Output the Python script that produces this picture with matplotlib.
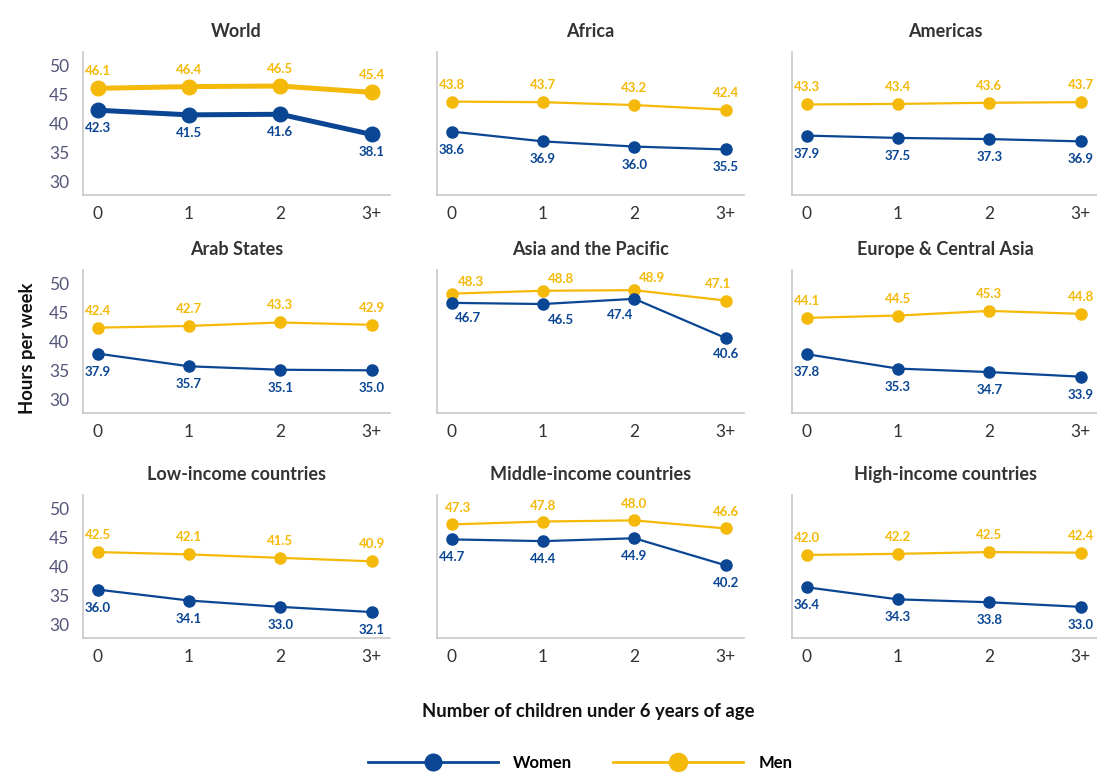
import matplotlib.pyplot as plt
from matplotlib.lines import Line2D

plt.rcParams['font.family'] = ['Lato', 'DejaVu Sans']

# data
regions = ['World', 'Africa', 'Americas',
           'Arab States', 'Asia and the Pacific', 'Europe & Central Asia',
           'Low-income countries', 'Middle-income countries', 'High-income countries']
children = ['0', '1', '2', '3+']
women = [
    [42.3, 41.5, 41.6, 38.1],
    [38.6, 36.9, 36.0, 35.5],
    [37.9, 37.5, 37.3, 36.9],
    [37.9, 35.7, 35.1, 35.0],
    [46.7, 46.5, 47.4, 40.6],
    [37.8, 35.3, 34.7, 33.9],
    [36.0, 34.1, 33.0, 32.1],
    [44.7, 44.4, 44.9, 40.2],
    [36.4, 34.3, 33.8, 33.0],
]
men = [
    [46.1, 46.4, 46.5, 45.4],
    [43.8, 43.7, 43.2, 42.4],
    [43.3, 43.4, 43.6, 43.7],
    [42.4, 42.7, 43.3, 42.9],
    [48.3, 48.8, 48.9, 47.1],
    [44.1, 44.5, 45.3, 44.8],
    [42.5, 42.1, 41.5, 40.9],
    [47.3, 47.8, 48.0, 46.6],
    [42.0, 42.2, 42.5, 42.4],
]
yticks = [30, 35, 40, 45, 50]

BLUE = '#0a4693'
GOLD = '#f5b90a'
W, H = 1097, 772

# axes boxes in pixels: left, top
col_left = [83, 437, 792]
row_top = [52, 270, 495]
ax_w, ax_h = 307, 143

# label offsets (pixels) for the crowded panels
women_off = {4: [(16, -15), (18, -16), (-14, -16), (0, -16)]}
men_off = {4: [(19, 12), (18, 12), (18, 12), (-8, 17)],
           7: [(6, 16), (0, 16), (0, 16), (0, 16)]}

fig = plt.figure(figsize=(W / 100, H / 100), dpi=100)

for i, name in enumerate(regions):
    r, c = divmod(i, 3)
    left = col_left[c] / W
    bottom = 1 - (row_top[r] + ax_h) / H
    ax = fig.add_axes([left, bottom, ax_w / W, ax_h / H])
    x = list(range(len(children)))
    lw, ms = (3.6, 10.5) if i == 0 else (1.6, 8)
    ax.plot(x, men[i], color=GOLD, lw=lw, marker='o', ms=ms, zorder=3)
    ax.plot(x, women[i], color=BLUE, lw=lw, marker='o', ms=ms, zorder=4)

    for j in x:
        dx, dy = men_off.get(i, [(0, 17)] * 4)[j]
        ax.annotate(f'{men[i][j]:.1f}', (j, men[i][j]), xytext=(dx, dy),
                    textcoords='offset pixels', ha='center', va='center',
                    fontsize=9.5, fontweight='bold', color=GOLD)
        dx, dy = women_off.get(i, [(0, -18)] * 4)[j]
        ax.annotate(f'{women[i][j]:.1f}', (j, women[i][j]), xytext=(dx, dy),
                    textcoords='offset pixels', ha='center', va='center',
                    fontsize=9.5, fontweight='bold', color=BLUE)

    ax.set_xlim(-0.16, 3.2)
    ax.set_ylim(27.6, 52.4)
    ax.set_xticks(x)
    ax.set_xticklabels(children)
    ax.set_yticks(yticks)
    if c != 0:
        ax.set_yticklabels([])
    ax.tick_params(length=0, labelsize=12.5)
    ax.tick_params(axis='y', colors='#55557a', pad=10)
    ax.tick_params(axis='x', colors='#333333', pad=8)
    for s in ['top', 'right']:
        ax.spines[s].set_visible(False)
    for s in ['left', 'bottom']:
        ax.spines[s].set_color('#c8c8c8')
        ax.spines[s].set_linewidth(1.2)
    ax.set_title(name, fontsize=13, fontweight='bold', color='#333333', pad=11)

fig.text(27 / W, 1 - 348 / H, 'Hours per week', rotation=90, ha='center',
         va='center', fontsize=13.3, fontweight='bold', color='#111111')
fig.text(588 / W, 1 - 712 / H, 'Number of children under 6 years of age',
         ha='center', va='center', fontsize=13.3, fontweight='bold', color='#111111')

handles = [Line2D([], [], color=BLUE, lw=2, marker='o', ms=12),
           Line2D([], [], color=GOLD, lw=2, marker='o', ms=13)]
fig.legend(handles, ['Women', 'Men'], loc='center', bbox_to_anchor=(580 / W, 1 - 763 / H),
           ncol=2, frameon=False, numpoints=1, handlelength=7.8, columnspacing=2.5,
           handletextpad=0.9, prop={'weight': 'bold', 'size': 12})

fig.savefig('out.png', dpi=100)
